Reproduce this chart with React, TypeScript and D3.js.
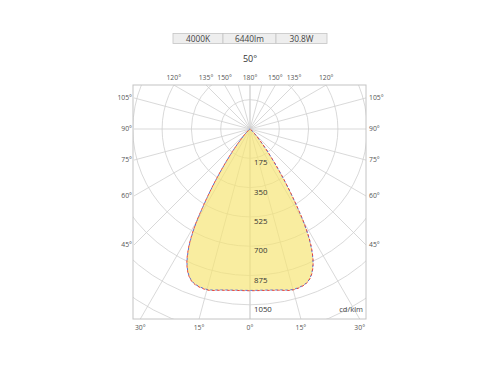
import React from "react";
import * as d3 from "d3";

const headerCells = ["4000K", "6440lm", "30.8W"];
const beamLabel = "50°";
const unitLabel = "cd/klm";

const ringValues = [175, 350, 525, 700, 875, 1050, 1225, 1400];
const ringLabels = [175, 350, 525, 700, 875, 1050];
const gridAngles = [0, 15, 30, 45, 60, 75, 90, 105, 120, 135, 150, 165, 180];
const topAngleLabels = [120, 135, 150, 180];
const sideAngleLabels = [45, 60, 75, 90, 105];
const bottomAngleLabels = [0, 15, 30];

// photometric data (degrees from nadir, cd/klm)
const angles = [0, 5, 10, 15, 20, 22.5, 25, 27, 28.5, 30, 31, 32, 33, 34, 35, 36, 38, 40, 45, 50, 60, 75, 90];
const c0 = [966, 968, 978, 995, 982, 952, 892, 815, 738, 640, 560, 488, 420, 358, 300, 250, 170, 112, 38, 12, 3, 0, 0];
const c90 = [964, 966, 976, 992, 980, 950, 890, 812, 734, 636, 556, 484, 416, 354, 296, 246, 167, 110, 37, 11, 3, 0, 0];

const W = 500, H = 370;
const cx = 250, cy = 129;
const box = { x0: 133, x1: 366, y0: 85, y1: 319 };
const rScale = d3.scaleLinear().domain([0, 1050]).range([0, 175.8]);
const FONT = "'Open Sans', 'DejaVu Sans', sans-serif";

function curvePath(vals: number[]) {
  const pts: [number, number][] = [];
  for (let i = angles.length - 1; i >= 0; i--) pts.push([Math.PI + (angles[i] * Math.PI) / 180, rScale(vals[i])]);
  for (let i = 1; i < angles.length; i++) pts.push([Math.PI - (angles[i] * Math.PI) / 180, rScale(vals[i])]);
  const gen = d3.lineRadial<[number, number]>().angle((d) => d[0]).radius((d) => d[1]).curve(d3.curveCatmullRomClosed.alpha(0.5));
  return gen(pts) || "";
}

function boxHit(theta: number) {
  const t = (theta * Math.PI) / 180;
  const dx = Math.sin(t), dy = Math.cos(t);
  let best = Infinity;
  if (dx > 1e-9) best = Math.min(best, (box.x1 - cx) / dx);
  if (dy > 1e-9) best = Math.min(best, (box.y1 - cy) / dy);
  if (dy < -1e-9) best = Math.min(best, (box.y0 - cy) / dy);
  return { x: cx + dx * best, y: cy + dy * best, len: best };
}

export default function App() {
  const cellW = [50, 53, 51];
  const tableX = 173;
  let acc = tableX;
  const cells = headerCells.map((t, i) => {
    const c = { t, x: acc, w: cellW[i] };
    acc += cellW[i];
    return c;
  });
  const gridStroke = "#cfcfcf";
  const labelColor = "#555";
  return (
    <svg width={W} height={H} style={{ position: "absolute", left: 0, top: 0 }} fontFamily={FONT}>
      <rect x={0} y={0} width={W} height={H} fill="#fff" />
      {cells.map((c, i) => (
        <g key={i}>
          <rect x={c.x} y={33.5} width={c.w} height={10} fill="#eeeeee" stroke="#c4c4c4" strokeWidth={0.8} />
          <text x={c.x + c.w / 2} y={41.6} textAnchor="middle" fontSize={8.3} fill="#444">{c.t}</text>
        </g>
      ))}
      <text x={250} y={61.5} textAnchor="middle" fontSize={9} fill="#333">{beamLabel}</text>
      <defs>
        <clipPath id="boxclip">
          <rect x={box.x0} y={box.y0} width={box.x1 - box.x0} height={box.y1 - box.y0} />
        </clipPath>
      </defs>
      <g clipPath="url(#boxclip)">
        {ringValues.map((v) => (
          <circle key={v} cx={cx} cy={cy} r={rScale(v)} fill="none" stroke={gridStroke} strokeWidth={0.8} />
        ))}
        {gridAngles.map((a) => {
          const h = boxHit(a);
          const t = (a * Math.PI) / 180;
          return (
            <g key={a}>
              <line x1={cx} y1={cy} x2={cx + Math.sin(t) * h.len} y2={cy + Math.cos(t) * h.len} stroke={gridStroke} strokeWidth={0.8} />
              <line x1={cx} y1={cy} x2={cx - Math.sin(t) * h.len} y2={cy + Math.cos(t) * h.len} stroke={gridStroke} strokeWidth={0.8} />
            </g>
          );
        })}
        <path d={curvePath(c0)} transform={`translate(${cx},${cy})`} fill="#f6e573" fillOpacity={0.68} stroke="none" />
        <path d={curvePath(c90)} transform={`translate(${cx},${cy})`} fill="none" stroke="#5a6fd8" strokeWidth={1} strokeDasharray="2.5,2.5" />
        <path d={curvePath(c0)} transform={`translate(${cx},${cy})`} fill="none" stroke="#e8453c" strokeWidth={1} strokeDasharray="2.5,2.5" strokeDashoffset={2.5} />
      </g>
      <rect x={box.x0} y={box.y0} width={box.x1 - box.x0} height={box.y1 - box.y0} fill="none" stroke="#c4c4c4" strokeWidth={1} />
      {ringLabels.map((v) => (
        <text key={v} x={cx + 4} y={cy + rScale(v) + 7} fontSize={7.8} fill="#333">{v}</text>
      ))}
      {topAngleLabels.map((a) => {
        const h = boxHit(a);
        const dx = h.x - cx;
        return (
          <g key={a}>
            <text x={cx + dx} y={80} textAnchor="middle" fontSize={6.8} fill={labelColor}>{a}°</text>
            {a !== 180 && <text x={cx - dx} y={80} textAnchor="middle" fontSize={6.8} fill={labelColor}>{a}°</text>}
          </g>
        );
      })}
      {sideAngleLabels.map((a) => {
        const h = boxHit(a);
        return (
          <g key={a}>
            <text x={box.x0 - 1} y={h.y + 2.4} textAnchor="end" fontSize={6.8} fill={labelColor}>{a}°</text>
            <text x={box.x1 + 3} y={h.y + 2.4} textAnchor="start" fontSize={6.8} fill={labelColor}>{a}°</text>
          </g>
        );
      })}
      {bottomAngleLabels.map((a) => {
        const h = boxHit(a);
        const dx = h.x - cx;
        return (
          <g key={a}>
            <text x={cx + dx} y={330} textAnchor="middle" fontSize={6.8} fill={labelColor}>{a}°</text>
            {a !== 0 && <text x={cx - dx} y={330} textAnchor="middle" fontSize={6.8} fill={labelColor}>{a}°</text>}
          </g>
        );
      })}
      <text x={363} y={312} textAnchor="end" fontSize={7.5} fill="#444">{unitLabel}</text>
    </svg>
  );
}
